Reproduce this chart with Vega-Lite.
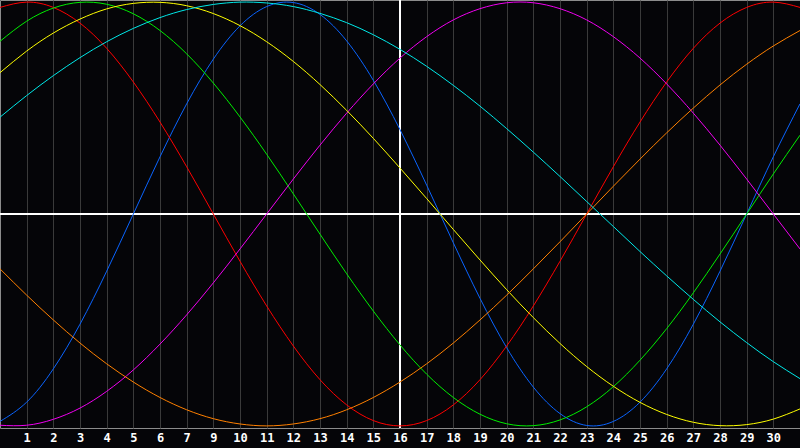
{
  "$schema": "https://vega.github.io/schema/vega-lite/v6.json",
  "description": "Biorhythm chart, seven cycles over a month.",
  "width": 800,
  "height": 428,
  "autosize": "none",
  "padding": {"left": 0, "top": 0, "right": 0, "bottom": 20},
  "background": "#050508",
  "config": {
    "view": {"stroke": "#8c8c8c", "strokeWidth": 1, "fill": "#050508"},
    "axisX": {
      "title": null,
      "grid": true,
      "gridColor": "#3a3a3a",
      "gridWidth": 1,
      "ticks": false,
      "domain": false,
      "labelColor": "#ffffff",
      "labelFont": "DejaVu Sans Mono",
      "labelFontWeight": "bold",
      "labelFontSize": 12,
      "labelPadding": 4,
      "labelFlush": false,
      "labelOverlap": false
    }
  },
  "data": {
    "values": [
      {"day": 0, "cycle": "Physical", "value": -0.979},
      {"day": 1, "cycle": "Physical", "value": -0.888},
      {"day": 2, "cycle": "Physical", "value": -0.731},
      {"day": 3, "cycle": "Physical", "value": -0.52},
      {"day": 4, "cycle": "Physical", "value": -0.27},
      {"day": 5, "cycle": "Physical", "value": 0},
      {"day": 6, "cycle": "Physical", "value": 0.27},
      {"day": 7, "cycle": "Physical", "value": 0.52},
      {"day": 8, "cycle": "Physical", "value": 0.731},
      {"day": 9, "cycle": "Physical", "value": 0.888},
      {"day": 10, "cycle": "Physical", "value": 0.979},
      {"day": 11, "cycle": "Physical", "value": 0.998},
      {"day": 12, "cycle": "Physical", "value": 0.942},
      {"day": 13, "cycle": "Physical", "value": 0.817},
      {"day": 14, "cycle": "Physical", "value": 0.631},
      {"day": 15, "cycle": "Physical", "value": 0.398},
      {"day": 16, "cycle": "Physical", "value": 0.136},
      {"day": 17, "cycle": "Physical", "value": -0.136},
      {"day": 18, "cycle": "Physical", "value": -0.398},
      {"day": 19, "cycle": "Physical", "value": -0.631},
      {"day": 20, "cycle": "Physical", "value": -0.817},
      {"day": 21, "cycle": "Physical", "value": -0.942},
      {"day": 22, "cycle": "Physical", "value": -0.998},
      {"day": 23, "cycle": "Physical", "value": -0.979},
      {"day": 24, "cycle": "Physical", "value": -0.888},
      {"day": 25, "cycle": "Physical", "value": -0.731},
      {"day": 26, "cycle": "Physical", "value": -0.52},
      {"day": 27, "cycle": "Physical", "value": -0.27},
      {"day": 28, "cycle": "Physical", "value": 0},
      {"day": 29, "cycle": "Physical", "value": 0.27},
      {"day": 30, "cycle": "Physical", "value": 0.52},

      {"day": 0, "cycle": "Emotional", "value": 0.975},
      {"day": 1, "cycle": "Emotional", "value": 1},
      {"day": 2, "cycle": "Emotional", "value": 0.975},
      {"day": 3, "cycle": "Emotional", "value": 0.901},
      {"day": 4, "cycle": "Emotional", "value": 0.782},
      {"day": 5, "cycle": "Emotional", "value": 0.623},
      {"day": 6, "cycle": "Emotional", "value": 0.434},
      {"day": 7, "cycle": "Emotional", "value": 0.223},
      {"day": 8, "cycle": "Emotional", "value": 0},
      {"day": 9, "cycle": "Emotional", "value": -0.223},
      {"day": 10, "cycle": "Emotional", "value": -0.434},
      {"day": 11, "cycle": "Emotional", "value": -0.623},
      {"day": 12, "cycle": "Emotional", "value": -0.782},
      {"day": 13, "cycle": "Emotional", "value": -0.901},
      {"day": 14, "cycle": "Emotional", "value": -0.975},
      {"day": 15, "cycle": "Emotional", "value": -1},
      {"day": 16, "cycle": "Emotional", "value": -0.975},
      {"day": 17, "cycle": "Emotional", "value": -0.901},
      {"day": 18, "cycle": "Emotional", "value": -0.782},
      {"day": 19, "cycle": "Emotional", "value": -0.623},
      {"day": 20, "cycle": "Emotional", "value": -0.434},
      {"day": 21, "cycle": "Emotional", "value": -0.223},
      {"day": 22, "cycle": "Emotional", "value": 0},
      {"day": 23, "cycle": "Emotional", "value": 0.223},
      {"day": 24, "cycle": "Emotional", "value": 0.434},
      {"day": 25, "cycle": "Emotional", "value": 0.623},
      {"day": 26, "cycle": "Emotional", "value": 0.782},
      {"day": 27, "cycle": "Emotional", "value": 0.901},
      {"day": 28, "cycle": "Emotional", "value": 0.975},
      {"day": 29, "cycle": "Emotional", "value": 1},
      {"day": 30, "cycle": "Emotional", "value": 0.975},

      {"day": 0, "cycle": "Intellectual", "value": 0.815},
      {"day": 1, "cycle": "Intellectual", "value": 0.91},
      {"day": 2, "cycle": "Intellectual", "value": 0.972},
      {"day": 3, "cycle": "Intellectual", "value": 0.999},
      {"day": 4, "cycle": "Intellectual", "value": 0.99},
      {"day": 5, "cycle": "Intellectual", "value": 0.945},
      {"day": 6, "cycle": "Intellectual", "value": 0.866},
      {"day": 7, "cycle": "Intellectual", "value": 0.756},
      {"day": 8, "cycle": "Intellectual", "value": 0.618},
      {"day": 9, "cycle": "Intellectual", "value": 0.458},
      {"day": 10, "cycle": "Intellectual", "value": 0.282},
      {"day": 11, "cycle": "Intellectual", "value": 0.095},
      {"day": 12, "cycle": "Intellectual", "value": -0.095},
      {"day": 13, "cycle": "Intellectual", "value": -0.282},
      {"day": 14, "cycle": "Intellectual", "value": -0.458},
      {"day": 15, "cycle": "Intellectual", "value": -0.618},
      {"day": 16, "cycle": "Intellectual", "value": -0.756},
      {"day": 17, "cycle": "Intellectual", "value": -0.866},
      {"day": 18, "cycle": "Intellectual", "value": -0.945},
      {"day": 19, "cycle": "Intellectual", "value": -0.99},
      {"day": 20, "cycle": "Intellectual", "value": -0.999},
      {"day": 21, "cycle": "Intellectual", "value": -0.972},
      {"day": 22, "cycle": "Intellectual", "value": -0.91},
      {"day": 23, "cycle": "Intellectual", "value": -0.815},
      {"day": 24, "cycle": "Intellectual", "value": -0.69},
      {"day": 25, "cycle": "Intellectual", "value": -0.541},
      {"day": 26, "cycle": "Intellectual", "value": -0.372},
      {"day": 27, "cycle": "Intellectual", "value": -0.189},
      {"day": 28, "cycle": "Intellectual", "value": 0},
      {"day": 29, "cycle": "Intellectual", "value": 0.189},
      {"day": 30, "cycle": "Intellectual", "value": 0.372},

      {"day": 0, "cycle": "Intuitive", "value": -0.997},
      {"day": 1, "cycle": "Intuitive", "value": -0.997},
      {"day": 2, "cycle": "Intuitive", "value": -0.969},
      {"day": 3, "cycle": "Intuitive", "value": -0.916},
      {"day": 4, "cycle": "Intuitive", "value": -0.837},
      {"day": 5, "cycle": "Intuitive", "value": -0.736},
      {"day": 6, "cycle": "Intuitive", "value": -0.614},
      {"day": 7, "cycle": "Intuitive", "value": -0.476},
      {"day": 8, "cycle": "Intuitive", "value": -0.325},
      {"day": 9, "cycle": "Intuitive", "value": -0.165},
      {"day": 10, "cycle": "Intuitive", "value": 0},
      {"day": 11, "cycle": "Intuitive", "value": 0.165},
      {"day": 12, "cycle": "Intuitive", "value": 0.325},
      {"day": 13, "cycle": "Intuitive", "value": 0.476},
      {"day": 14, "cycle": "Intuitive", "value": 0.614},
      {"day": 15, "cycle": "Intuitive", "value": 0.736},
      {"day": 16, "cycle": "Intuitive", "value": 0.837},
      {"day": 17, "cycle": "Intuitive", "value": 0.916},
      {"day": 18, "cycle": "Intuitive", "value": 0.969},
      {"day": 19, "cycle": "Intuitive", "value": 0.997},
      {"day": 20, "cycle": "Intuitive", "value": 0.997},
      {"day": 21, "cycle": "Intuitive", "value": 0.969},
      {"day": 22, "cycle": "Intuitive", "value": 0.916},
      {"day": 23, "cycle": "Intuitive", "value": 0.837},
      {"day": 24, "cycle": "Intuitive", "value": 0.736},
      {"day": 25, "cycle": "Intuitive", "value": 0.614},
      {"day": 26, "cycle": "Intuitive", "value": 0.476},
      {"day": 27, "cycle": "Intuitive", "value": 0.325},
      {"day": 28, "cycle": "Intuitive", "value": 0.165},
      {"day": 29, "cycle": "Intuitive", "value": 0},
      {"day": 30, "cycle": "Intuitive", "value": -0.165},

      {"day": 0, "cycle": "Aesthetic", "value": 0.667},
      {"day": 1, "cycle": "Aesthetic", "value": 0.769},
      {"day": 2, "cycle": "Aesthetic", "value": 0.854},
      {"day": 3, "cycle": "Aesthetic", "value": 0.92},
      {"day": 4, "cycle": "Aesthetic", "value": 0.968},
      {"day": 5, "cycle": "Aesthetic", "value": 0.994},
      {"day": 6, "cycle": "Aesthetic", "value": 0.999},
      {"day": 7, "cycle": "Aesthetic", "value": 0.983},
      {"day": 8, "cycle": "Aesthetic", "value": 0.946},
      {"day": 9, "cycle": "Aesthetic", "value": 0.889},
      {"day": 10, "cycle": "Aesthetic", "value": 0.813},
      {"day": 11, "cycle": "Aesthetic", "value": 0.72},
      {"day": 12, "cycle": "Aesthetic", "value": 0.611},
      {"day": 13, "cycle": "Aesthetic", "value": 0.489},
      {"day": 14, "cycle": "Aesthetic", "value": 0.357},
      {"day": 15, "cycle": "Aesthetic", "value": 0.217},
      {"day": 16, "cycle": "Aesthetic", "value": 0.073},
      {"day": 17, "cycle": "Aesthetic", "value": -0.073},
      {"day": 18, "cycle": "Aesthetic", "value": -0.217},
      {"day": 19, "cycle": "Aesthetic", "value": -0.357},
      {"day": 20, "cycle": "Aesthetic", "value": -0.489},
      {"day": 21, "cycle": "Aesthetic", "value": -0.611},
      {"day": 22, "cycle": "Aesthetic", "value": -0.72},
      {"day": 23, "cycle": "Aesthetic", "value": -0.813},
      {"day": 24, "cycle": "Aesthetic", "value": -0.889},
      {"day": 25, "cycle": "Aesthetic", "value": -0.946},
      {"day": 26, "cycle": "Aesthetic", "value": -0.983},
      {"day": 27, "cycle": "Aesthetic", "value": -0.999},
      {"day": 28, "cycle": "Aesthetic", "value": -0.994},
      {"day": 29, "cycle": "Aesthetic", "value": -0.968},
      {"day": 30, "cycle": "Aesthetic", "value": -0.92},

      {"day": 0, "cycle": "Awareness", "value": -0.259},
      {"day": 1, "cycle": "Awareness", "value": -0.383},
      {"day": 2, "cycle": "Awareness", "value": -0.5},
      {"day": 3, "cycle": "Awareness", "value": -0.609},
      {"day": 4, "cycle": "Awareness", "value": -0.707},
      {"day": 5, "cycle": "Awareness", "value": -0.793},
      {"day": 6, "cycle": "Awareness", "value": -0.866},
      {"day": 7, "cycle": "Awareness", "value": -0.924},
      {"day": 8, "cycle": "Awareness", "value": -0.966},
      {"day": 9, "cycle": "Awareness", "value": -0.991},
      {"day": 10, "cycle": "Awareness", "value": -1},
      {"day": 11, "cycle": "Awareness", "value": -0.991},
      {"day": 12, "cycle": "Awareness", "value": -0.966},
      {"day": 13, "cycle": "Awareness", "value": -0.924},
      {"day": 14, "cycle": "Awareness", "value": -0.866},
      {"day": 15, "cycle": "Awareness", "value": -0.793},
      {"day": 16, "cycle": "Awareness", "value": -0.707},
      {"day": 17, "cycle": "Awareness", "value": -0.609},
      {"day": 18, "cycle": "Awareness", "value": -0.5},
      {"day": 19, "cycle": "Awareness", "value": -0.383},
      {"day": 20, "cycle": "Awareness", "value": -0.259},
      {"day": 21, "cycle": "Awareness", "value": -0.131},
      {"day": 22, "cycle": "Awareness", "value": 0},
      {"day": 23, "cycle": "Awareness", "value": 0.131},
      {"day": 24, "cycle": "Awareness", "value": 0.259},
      {"day": 25, "cycle": "Awareness", "value": 0.383},
      {"day": 26, "cycle": "Awareness", "value": 0.5},
      {"day": 27, "cycle": "Awareness", "value": 0.609},
      {"day": 28, "cycle": "Awareness", "value": 0.707},
      {"day": 29, "cycle": "Awareness", "value": 0.793},
      {"day": 30, "cycle": "Awareness", "value": 0.866},

      {"day": 0, "cycle": "Spiritual", "value": 0.457},
      {"day": 1, "cycle": "Spiritual", "value": 0.559},
      {"day": 2, "cycle": "Spiritual", "value": 0.653},
      {"day": 3, "cycle": "Spiritual", "value": 0.738},
      {"day": 4, "cycle": "Spiritual", "value": 0.813},
      {"day": 5, "cycle": "Spiritual", "value": 0.876},
      {"day": 6, "cycle": "Spiritual", "value": 0.927},
      {"day": 7, "cycle": "Spiritual", "value": 0.965},
      {"day": 8, "cycle": "Spiritual", "value": 0.989},
      {"day": 9, "cycle": "Spiritual", "value": 1},
      {"day": 10, "cycle": "Spiritual", "value": 0.996},
      {"day": 11, "cycle": "Spiritual", "value": 0.979},
      {"day": 12, "cycle": "Spiritual", "value": 0.947},
      {"day": 13, "cycle": "Spiritual", "value": 0.903},
      {"day": 14, "cycle": "Spiritual", "value": 0.846},
      {"day": 15, "cycle": "Spiritual", "value": 0.777},
      {"day": 16, "cycle": "Spiritual", "value": 0.697},
      {"day": 17, "cycle": "Spiritual", "value": 0.607},
      {"day": 18, "cycle": "Spiritual", "value": 0.509},
      {"day": 19, "cycle": "Spiritual", "value": 0.403},
      {"day": 20, "cycle": "Spiritual", "value": 0.292},
      {"day": 21, "cycle": "Spiritual", "value": 0.177},
      {"day": 22, "cycle": "Spiritual", "value": 0.059},
      {"day": 23, "cycle": "Spiritual", "value": -0.059},
      {"day": 24, "cycle": "Spiritual", "value": -0.177},
      {"day": 25, "cycle": "Spiritual", "value": -0.292},
      {"day": 26, "cycle": "Spiritual", "value": -0.403},
      {"day": 27, "cycle": "Spiritual", "value": -0.509},
      {"day": 28, "cycle": "Spiritual", "value": -0.607},
      {"day": 29, "cycle": "Spiritual", "value": -0.697},
      {"day": 30, "cycle": "Spiritual", "value": -0.777}
    ]
  },
  "layer": [
    {
      "mark": {"type": "rule", "color": "#ffffff", "strokeWidth": 1.2},
      "encoding": {
        "x": {
          "datum": 15,
          "type": "quantitative",
          "axis": {
            "values": [1, 2, 3, 4, 5, 6, 7, 8, 9, 10, 11, 12, 13, 14, 15, 16, 17, 18, 19, 20, 21, 22, 23, 24, 25, 26, 27, 28, 29],
            "labelExpr": "datum.value < 8 ? datum.value : datum.value + 1"
          }
        }
      }
    },
    {
      "mark": {"type": "rule", "color": "#ffffff", "strokeWidth": 1.2},
      "encoding": {"y": {"datum": 0, "type": "quantitative", "axis": null}}
    },
    {
      "mark": {"type": "line", "interpolate": "natural", "strokeWidth": 1},
      "encoding": {
        "x": {
          "field": "day",
          "type": "quantitative",
          "scale": {"domain": [0, 30], "nice": false, "zero": false},
          "axis": {
            "values": [1, 2, 3, 4, 5, 6, 7, 8, 9, 10, 11, 12, 13, 14, 15, 16, 17, 18, 19, 20, 21, 22, 23, 24, 25, 26, 27, 28, 29],
            "labelExpr": "datum.value < 8 ? datum.value : datum.value + 1"
          }
        },
        "y": {
          "field": "value",
          "type": "quantitative",
          "scale": {"domain": [-1.01, 1.01], "nice": false, "zero": false},
          "axis": null
        },
        "color": {
          "field": "cycle",
          "type": "nominal",
          "scale": {
            "domain": ["Physical", "Emotional", "Intellectual", "Intuitive", "Aesthetic", "Awareness", "Spiritual"],
            "range": ["#0a64ff", "#ff0000", "#00ee00", "#f000f0", "#ffff00", "#ff8000", "#00e8e8"]
          },
          "legend": null
        }
      }
    }
  ]
}
